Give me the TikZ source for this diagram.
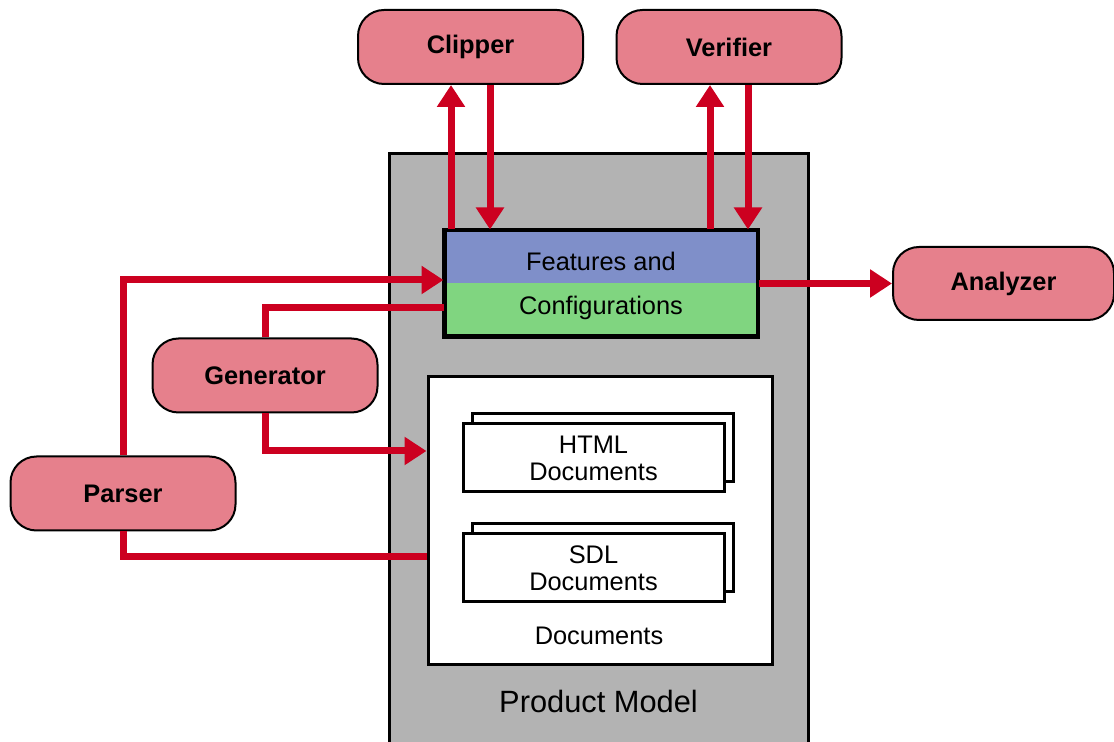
\documentclass[tikz,border=0pt]{standalone}
\usepackage{fontspec}
\setmainfont{Liberation Sans}
\usetikzlibrary{arrows.meta,shadows}

\definecolor{toolpink}{HTML}{E6808C}
\definecolor{flowred}{HTML}{CC0020}
\definecolor{featblue}{HTML}{7F8FC9}
\definecolor{featgreen}{HTML}{80D580}
\definecolor{modelgray}{HTML}{B3B3B3}

\begin{document}
\begin{tikzpicture}[x=0.5pt, y=-0.5pt,
    tool/.style={draw, line width=1pt, fill=toolpink, rounded corners=13pt,
        minimum width=112.5pt, minimum height=37pt, inner sep=0pt,
        font=\fontsize{12.7}{15}\selectfont\bfseries},
    flow/.style={draw=flowred, line width=3.5pt, -{Triangle[length=11pt,width=13.5pt]}},
    link/.style={draw=flowred, line width=3.5pt},
    txt/.style={inner sep=0pt, font=\fontsize{12.7}{13.5}\selectfont},
    docstack/.style={draw, line width=1.5pt, fill=white, minimum width=130.5pt,
        minimum height=34pt, inner sep=0pt, align=center,
        font=\fontsize{12.7}{13.5}\selectfont,
        copy shadow={shadow xshift=4.75pt, shadow yshift=5pt}}]
    \useasboundingbox (0,0) rectangle (1114,742);

    % product model
    \node[draw, line width=1.5pt, fill=modelgray, minimum width=209.5pt,
        minimum height=310pt] (model) at (598.5,464) {};
    \node[txt, font=\fontsize{15.4}{16}\selectfont] (modellbl) at (598.5,701) {Product Model};

    % features and configurations
    \node[draw, line width=1.5pt, fill=featblue, minimum width=156pt, minimum height=52.5pt,
        path picture={\fill[featgreen] (path picture bounding box.west)
            rectangle (path picture bounding box.south east);}] (feat) at (601,283.5) {};
    \draw[line width=1.5pt] (feat.south west) rectangle (feat.north east);
    \node[txt] (featA) at ([yshift=11.25pt]feat.center) {Features and};
    \node[txt] (featB) at ([yshift=-12pt]feat.center) {Configurations};

    % documents
    \node[draw, line width=1.5pt, fill=white, minimum width=172pt, minimum height=144pt] (docs) at (600,521) {};
    \node[txt] (docslbl) at (599,636) {Documents};
    \node[docstack] (html) at (593.5,458) {HTML\\Documents};
    \node[docstack] (sdl) at (593.5,568) {SDL\\Documents};

    % tools
    \node[tool] (clipper) at (470.5,47) {Clipper};
    \node[tool] (verifier) at (729,47) {Verifier};
    \node[tool, minimum width=110.5pt, minimum height=36.5pt] (analyzer) at (1003.5,283.5) {Analyzer};
    \node[tool] (generator) at (265,375.5) {Generator};
    \node[tool] (parser) at (123,493.5) {Parser};

    % connectors
    \coordinate (clipUp) at ([xshift=-9.75pt]clipper.south);
    \coordinate (clipDown) at ([xshift=9.75pt]clipper.south);
    \coordinate (verUp) at ([xshift=-9.5pt]verifier.south);
    \coordinate (verDown) at ([xshift=9.5pt]verifier.south);
    \draw[flow] (clipUp |- feat.north) -- (clipUp);
    \draw[flow] (clipDown) -- (clipDown |- feat.north);
    \draw[flow] (verUp |- feat.north) -- (verUp);
    \draw[flow] (verDown) -- (verDown |- feat.north);

    \draw[flow] (parser.north) |- ([yshift=1.75pt]feat.west);
    \draw[link] ([yshift=-12pt]feat.west) -| (generator.north);
    \draw[flow] (generator.south) |- ([yshift=35pt]docs.west);
    \draw[link] (parser.south) |- ([yshift=-18pt]docs.west);
    \draw[flow] (feat.east |- analyzer.west) -- (analyzer.west);
\end{tikzpicture}
\end{document}
